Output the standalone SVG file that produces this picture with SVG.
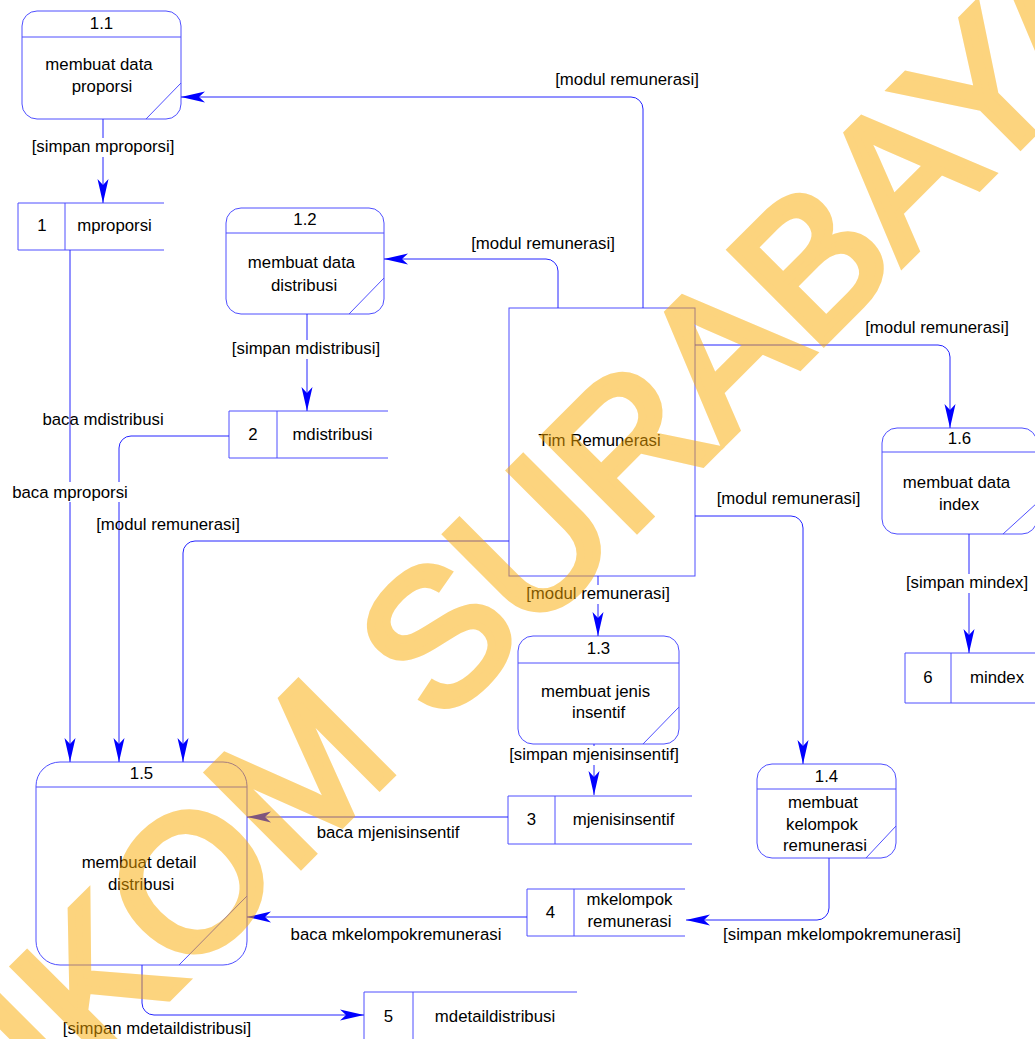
<svg xmlns="http://www.w3.org/2000/svg" width="1035" height="1039" viewBox="0 0 1035 1039">
<style>
text { font-family: "Liberation Sans", Arial, sans-serif; font-size: 16.8px; fill: #000; }
.m { text-anchor: middle; }
.n { fill: #fff; stroke: #4f4fff; stroke-width: 1; }
.nl { fill: none; stroke: #4f4fff; stroke-width: 1; }
.c { fill: none; stroke: #2424ff; stroke-width: 1; marker-end: url(#ah); }
.bg { fill: #fff; }
.wm { font-family: "Liberation Sans", Arial, sans-serif; font-size: 190px; font-weight: normal; fill: #fbaa00; stroke: #fbaa00; stroke-width: 8; stroke-linejoin: miter; opacity: 0.5; }
</style>
<defs>
<marker id="ah" markerUnits="userSpaceOnUse" viewBox="-25 -6 26 12" markerWidth="26" markerHeight="12" refX="0" refY="0" orient="auto">
<path d="M0,0 L-24,-5.5 L-18,0 L-24,5.5 Z" fill="#0000ff"/>
</marker>
</defs>
<rect width="1035" height="1039" fill="#fff"/>

<g id="p1_1">
<rect class="n" x="22" y="11" width="159" height="108" rx="15"/>
<line class="nl" x1="22" y1="37" x2="181" y2="37"/>
<line class="nl" x1="146" y1="119" x2="181" y2="83"/>
<text class="m" x="101.5" y="29">1.1</text>
<text class="m" x="99" y="70">membuat data</text>
<text class="m" x="102" y="92">proporsi</text>
</g>
<g id="p1_2">
<rect class="n" x="226" y="208" width="158" height="106" rx="15"/>
<line class="nl" x1="226" y1="233" x2="384" y2="233"/>
<line class="nl" x1="349" y1="314" x2="384" y2="278"/>
<text class="m" x="305" y="225">1.2</text>
<text class="m" x="301.5" y="268">membuat data</text>
<text class="m" x="304" y="291">distribusi</text>
</g>
<g id="p1_3">
<rect class="n" x="518" y="636" width="161" height="108" rx="15"/>
<line class="nl" x1="518" y1="663" x2="679" y2="663"/>
<line class="nl" x1="643" y1="744" x2="679" y2="707"/>
<text class="m" x="598.5" y="654">1.3</text>
<text class="m" x="595.5" y="697">membuat jenis</text>
<text class="m" x="598.5" y="718">insentif</text>
</g>
<g id="p1_4">
<rect class="n" x="757" y="764" width="139" height="94" rx="15"/>
<line class="nl" x1="757" y1="789" x2="896" y2="789"/>
<line class="nl" x1="866" y1="858" x2="896" y2="826"/>
<text class="m" x="826.5" y="782">1.4</text>
<text class="m" x="823" y="808">membuat</text>
<text class="m" x="822" y="830">kelompok</text>
<text class="m" x="825" y="851">remunerasi</text>
</g>
<g id="p1_5">
<rect class="n" x="36" y="762" width="211" height="203" rx="24"/>
<line class="nl" x1="36" y1="787" x2="247" y2="787"/>
<line class="nl" x1="179" y1="965" x2="247" y2="896"/>
<text class="m" x="141.5" y="779">1.5</text>
<text class="m" x="139" y="868">membuat detail</text>
<text class="m" x="141" y="890">distribusi</text>
</g>
<g id="p1_6">
<rect class="n" x="882" y="428" width="155" height="106" rx="15"/>
<line class="nl" x1="882" y1="452" x2="1037" y2="452"/>
<line class="nl" x1="1003" y1="534" x2="1037" y2="503"/>
<text class="m" x="959.5" y="444">1.6</text>
<text class="m" x="956.5" y="488">membuat data</text>
<text class="m" x="959" y="510">index</text>
</g>
<g id="tim">
<rect class="n" x="509" y="308" width="186" height="268"/>
<text class="m" x="599.5" y="446">Tim Remunerasi</text>
</g>
<g id="s1">
<path class="nl" d="M164,203 H18 V250 H164 M65,203 V250"/>
<text class="m" x="42" y="231">1</text>
<text class="m" x="114.5" y="231">mproporsi</text>
</g>
<g id="s2">
<path class="nl" d="M388,411 H229 V458 H388 M277,411 V458"/>
<text class="m" x="253" y="440">2</text>
<text class="m" x="332.5" y="440">mdistribusi</text>
</g>
<g id="s3">
<path class="nl" d="M692,796 H508 V844 H692 M555,796 V844"/>
<text class="m" x="531.5" y="825">3</text>
<text class="m" x="623.5" y="825">mjenisinsentif</text>
</g>
<g id="s4">
<path class="nl" d="M685,889 H527 V936 H685 M574,889 V936"/>
<text class="m" x="550.5" y="918">4</text>
<text class="m" x="629.5" y="905">mkelompok</text>
<text class="m" x="629.5" y="927">remunerasi</text>
</g>
<g id="s5">
<path class="nl" d="M577,992 H364 V1045 H577 M413,992 V1045"/>
<text class="m" x="388.5" y="1022">5</text>
<text class="m" x="495" y="1022">mdetaildistribusi</text>
</g>
<g id="s6">
<path class="nl" d="M1045,653 H905 V703 H1045 M951,653 V703"/>
<text class="m" x="928" y="683">6</text>
<text class="m" x="997" y="683">mindex</text>
</g>

<g id="connectors">
<path class="c" d="M643,308 V109 A12,12 0 0 0 631,97 H181"/>
<path class="c" d="M558,308 V271 A12,12 0 0 0 546,259 H384"/>
<path class="c" d="M695,345 H938 A12,12 0 0 1 950,357 V428"/>
<path class="c" d="M695,516 H791 A12,12 0 0 1 803,528 V764"/>
<path class="c" d="M509,541 H195 A12,12 0 0 0 183,553 V762"/>
<path class="c" d="M598,576 V636"/>
<path class="c" d="M103,119 V203"/>
<path class="c" d="M307,314 V411"/>
<path class="c" d="M594,744 V795"/>
<path class="c" d="M969,534 V653"/>
<path class="c" d="M829,858 V908 A12,12 0 0 1 817,920 H686"/>
<path class="c" d="M70,250 V762"/>
<path class="c" d="M229,436 H131 A12,12 0 0 0 119,448 V762"/>
<path class="c" d="M508,817 H247"/>
<path class="c" d="M527,917 H247"/>
<path class="c" d="M142,965 V1003 A12,12 0 0 0 154,1015 H364"/>

<rect class="bg" x="31" y="138" width="144" height="19"/>
<rect class="bg" x="232" y="340" width="148" height="19"/>
<rect class="bg" x="526" y="585" width="144" height="19"/>
<rect class="bg" x="509" y="746" width="170" height="19"/>
<rect class="bg" x="906" y="574" width="122" height="19"/>
<rect class="bg" x="12" y="482" width="116" height="20"/>

<text class="m" x="627" y="85">[modul remunerasi]</text>
<text class="m" x="103" y="152">[simpan mproporsi]</text>
<text class="m" x="543" y="249">[modul remunerasi]</text>
<text class="m" x="306" y="354">[simpan mdistribusi]</text>
<text class="m" x="937" y="333">[modul remunerasi]</text>
<text class="m" x="788.5" y="504">[modul remunerasi]</text>
<text class="m" x="168" y="530">[modul remunerasi]</text>
<text class="m" x="598" y="599">[modul remunerasi]</text>
<text class="m" x="594" y="760">[simpan mjenisinsentif]</text>
<text class="m" x="967" y="588">[simpan mindex]</text>
<text class="m" x="103" y="425">baca mdistribusi</text>
<text class="m" x="70" y="498">baca mproporsi</text>
<text class="m" x="388" y="838">baca mjenisinsentif</text>
<text class="m" x="396" y="940">baca mkelompokremunerasi</text>
<text class="m" x="842" y="940">[simpan mkelompokremunerasi]</text>
<text class="m" x="157" y="1034">[simpan mdetaildistribusi]</text>
</g>

<text class="wm" transform="translate(-113,1279) rotate(-45)">STIKOM SURABAYA</text>
</svg>
